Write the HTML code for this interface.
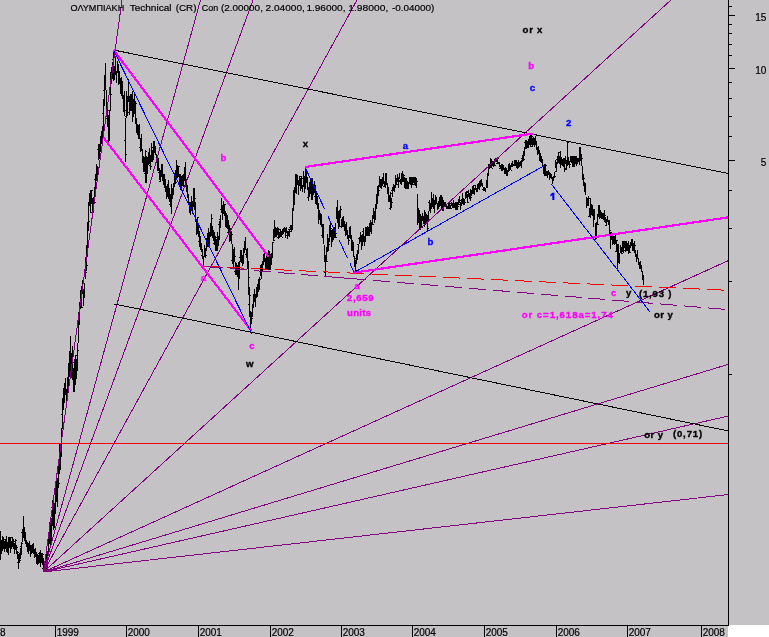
<!DOCTYPE html>
<html><head><meta charset="utf-8"><title>chart</title>
<style>html,body{margin:0;padding:0;background:#c5c2c6;}body{width:769px;height:637px;overflow:hidden;}svg{display:block;}text{font-family:"Liberation Sans",sans-serif;}</style>
</head><body>
<svg width="769" height="637" viewBox="0 0 769 637">
<rect x="0" y="0" width="769" height="637" fill="#c5c2c6"/>
<rect x="729" y="625" width="40" height="12" fill="#ffffff"/><rect x="728" y="626" width="2" height="11" fill="#ffffff"/>
<path d="M0.5 531.0V560.0M0.5 546.5h1.5M0.5 544.5h-1.5M1.5 540.0V554.0M1.5 549.5h1.5M2.5 536.0V551.0M2.5 537.5h1.5M2.5 548.5h-1.5M3.5 538.0V549.0M3.5 539.5h1.5M3.5 546.5h-1.5M4.5 541.0V552.0M5.5 539.0V549.0M5.5 549.5h1.5M5.5 543.5h-1.5M6.5 536.0V552.0M7.5 542.0V553.0M8.5 537.0V555.0M9.5 537.0V548.0M9.5 538.5h1.5M10.5 537.0V553.0M11.5 541.0V549.0M12.5 537.0V547.0M12.5 537.5h-1.5M13.5 539.0V548.0M14.5 543.0V554.0M14.5 548.5h-1.5M15.5 539.0V550.0M15.5 540.5h1.5M15.5 541.5h-1.5M16.5 545.0V553.0M16.5 547.5h1.5M16.5 548.5h-1.5M17.5 551.0V559.0M17.5 552.5h1.5M17.5 553.5h-1.5M18.5 554.0V569.0M18.5 562.5h1.5M18.5 562.5h-1.5M19.5 553.0V563.0M19.5 560.5h1.5M20.5 548.0V559.0M21.5 542.0V555.0M21.5 543.5h1.5M21.5 546.5h-1.5M22.5 529.0V542.0M22.5 532.5h-1.5M23.5 516.0V538.0M24.5 527.0V541.0M25.5 532.0V544.0M25.5 537.5h-1.5M26.5 540.0V547.0M27.5 542.0V552.0M27.5 542.5h-1.5M28.5 543.0V554.0M29.5 541.0V551.0M29.5 545.5h1.5M29.5 550.5h-1.5M30.5 545.0V557.0M31.5 545.0V554.0M31.5 552.5h1.5M31.5 549.5h-1.5M32.5 544.0V552.0M32.5 549.5h-1.5M33.5 543.0V554.0M34.5 549.0V558.0M35.5 548.0V557.0M35.5 553.5h1.5M36.5 552.0V564.0M36.5 560.5h1.5M37.5 554.0V565.0M38.5 555.0V564.0M38.5 559.5h-1.5M39.5 552.0V563.0M39.5 558.5h1.5M39.5 553.5h-1.5M40.5 550.0V567.0M40.5 554.5h-1.5M41.5 553.0V563.0M42.5 553.0V565.0M42.5 554.5h1.5M43.5 558.0V569.0M43.5 567.5h1.5M43.5 568.5h-1.5M44.5 563.0V572.0M44.5 568.5h1.5M44.5 564.5h-1.5M45.5 557.0V572.0M45.5 564.5h-1.5M46.5 551.0V572.0M46.5 561.5h-1.5M47.5 551.0V571.0M47.5 561.5h-1.5M48.5 534.0V555.0M48.5 541.5h-1.5M49.5 522.0V544.0M49.5 524.5h1.5M50.5 525.0V548.0M50.5 535.5h-1.5M51.5 518.0V542.0M51.5 527.5h-1.5M52.5 500.0V526.0M52.5 507.5h-1.5M53.5 500.0V530.0M54.5 503.0V528.0M54.5 528.5h1.5M54.5 521.5h-1.5M55.5 487.0V514.0M56.5 476.0V502.0M57.5 478.0V507.0M57.5 481.5h1.5M58.5 463.0V488.0M58.5 483.5h1.5M59.5 444.0V474.0M59.5 452.5h1.5M60.5 445.0V470.0M61.5 428.0V457.0M61.5 445.5h-1.5M62.5 398.0V429.0M62.5 414.5h-1.5M63.5 388.0V410.0M64.5 383.0V403.0M64.5 387.5h1.5M65.5 378.0V395.0M65.5 392.5h1.5M66.5 389.0V406.0M66.5 389.5h1.5M67.5 377.0V397.0M67.5 392.5h-1.5M68.5 363.0V386.0M68.5 371.5h1.5M68.5 386.5h-1.5M69.5 351.0V377.0M69.5 376.5h-1.5M70.5 336.0V377.0M71.5 353.0V378.0M71.5 371.5h-1.5M72.5 346.0V380.0M72.5 362.5h1.5M72.5 356.5h-1.5M73.5 368.0V392.0M73.5 372.5h-1.5M74.5 359.0V392.0M75.5 355.0V385.0M75.5 372.5h1.5M76.5 359.0V379.0M76.5 360.5h1.5M76.5 378.5h-1.5M77.5 343.0V371.0M77.5 350.5h1.5M77.5 355.5h-1.5M78.5 312.0V343.0M79.5 302.0V325.0M80.5 290.0V309.0M81.5 286.0V308.0M81.5 307.5h1.5M82.5 280.0V294.0M82.5 281.5h1.5M83.5 289.0V306.0M84.5 283.0V298.0M85.5 257.0V279.0M85.5 272.5h1.5M86.5 245.0V271.0M86.5 265.5h1.5M87.5 222.0V257.0M87.5 230.5h1.5M88.5 202.0V230.0M88.5 221.5h1.5M89.5 193.0V206.0M89.5 194.5h1.5M89.5 205.5h-1.5M90.5 190.0V213.0M90.5 212.5h1.5M91.5 190.0V204.0M91.5 190.5h1.5M91.5 195.5h-1.5M92.5 198.0V213.0M93.5 197.0V213.0M93.5 203.5h1.5M94.5 187.0V204.0M94.5 202.5h1.5M94.5 199.5h-1.5M95.5 174.0V193.0M95.5 187.5h1.5M95.5 179.5h-1.5M96.5 164.0V181.0M96.5 168.5h1.5M97.5 166.0V180.0M98.5 144.0V160.0M98.5 149.5h-1.5M99.5 144.0V159.0M99.5 145.5h1.5M99.5 152.5h-1.5M100.5 136.0V152.0M100.5 137.5h1.5M101.5 131.0V144.0M102.5 126.0V141.0M102.5 137.5h-1.5M103.5 99.0V134.0M103.5 113.5h-1.5M104.5 75.0V106.0M104.5 90.5h-1.5M105.5 63.0V90.0M106.5 90.0V117.0M107.5 106.0V127.0M107.5 110.5h1.5M107.5 118.5h-1.5M108.5 116.0V146.0M108.5 126.5h1.5M108.5 140.5h-1.5M109.5 110.0V141.0M109.5 115.5h-1.5M110.5 72.0V111.0M110.5 94.5h1.5M110.5 89.5h-1.5M111.5 67.0V84.0M111.5 68.5h1.5M112.5 62.0V79.0M112.5 63.5h1.5M113.5 51.0V81.0M113.5 59.5h-1.5M114.5 66.0V80.0M114.5 68.5h-1.5M115.5 56.0V75.0M116.5 71.0V83.0M117.5 61.0V73.0M117.5 64.5h1.5M118.5 65.0V85.0M118.5 77.5h1.5M119.5 71.0V84.0M119.5 77.5h-1.5M120.5 78.0V94.0M121.5 77.0V96.0M121.5 85.5h1.5M122.5 81.0V99.0M122.5 90.5h-1.5M123.5 95.0V112.0M124.5 91.0V116.0M124.5 110.5h1.5M125.5 118.0V162.0M125.5 154.5h1.5M125.5 140.5h-1.5M126.5 91.0V118.0M126.5 96.5h1.5M126.5 116.5h-1.5M127.5 96.0V116.0M127.5 114.5h-1.5M128.5 79.0V102.0M128.5 97.5h1.5M128.5 101.5h-1.5M129.5 97.0V115.0M129.5 112.5h-1.5M130.5 94.0V111.0M130.5 94.5h1.5M130.5 96.5h-1.5M131.5 94.0V110.0M131.5 104.5h1.5M131.5 94.5h-1.5M132.5 91.0V122.0M132.5 110.5h-1.5M133.5 99.0V117.0M133.5 110.5h1.5M134.5 92.0V114.0M134.5 106.5h1.5M134.5 113.5h-1.5M135.5 101.0V124.0M135.5 103.5h1.5M136.5 118.0V133.0M137.5 124.0V135.0M137.5 134.5h1.5M138.5 125.0V139.0M139.5 124.0V139.0M140.5 138.0V152.0M140.5 147.5h-1.5M141.5 134.0V151.0M142.5 149.0V163.0M143.5 156.0V171.0M144.5 157.0V172.0M144.5 171.5h-1.5M145.5 150.0V183.0M145.5 151.5h1.5M145.5 173.5h-1.5M146.5 156.0V183.0M147.5 157.0V174.0M147.5 160.5h1.5M147.5 157.5h-1.5M148.5 152.0V165.0M148.5 153.5h1.5M148.5 162.5h-1.5M149.5 148.0V164.0M149.5 153.5h-1.5M150.5 155.0V170.0M150.5 166.5h1.5M150.5 165.5h-1.5M151.5 143.0V162.0M151.5 147.5h1.5M152.5 150.0V162.0M152.5 156.5h1.5M152.5 160.5h-1.5M153.5 141.0V160.0M153.5 153.5h-1.5M154.5 141.0V153.0M154.5 146.5h1.5M154.5 152.5h-1.5M155.5 146.0V155.0M156.5 154.0V163.0M157.5 159.0V171.0M158.5 158.0V171.0M159.5 168.0V180.0M159.5 170.5h1.5M159.5 172.5h-1.5M160.5 170.0V181.0M160.5 181.5h-1.5M161.5 164.0V177.0M161.5 166.5h1.5M162.5 164.0V181.0M163.5 174.0V185.0M164.5 174.0V187.0M165.5 179.0V192.0M165.5 187.5h-1.5M166.5 186.0V199.0M166.5 192.5h1.5M167.5 184.0V197.0M168.5 180.0V199.0M169.5 188.0V202.0M170.5 194.0V207.0M170.5 204.5h-1.5M171.5 184.0V214.0M171.5 197.5h1.5M171.5 205.5h-1.5M172.5 188.0V199.0M172.5 197.5h-1.5M173.5 183.0V195.0M174.5 173.0V187.0M175.5 170.0V184.0M175.5 182.5h1.5M175.5 175.5h-1.5M176.5 160.0V178.0M176.5 165.5h1.5M177.5 165.0V178.0M177.5 176.5h-1.5M178.5 166.0V177.0M178.5 166.5h1.5M179.5 174.0V186.0M179.5 176.5h-1.5M180.5 174.0V190.0M181.5 176.0V188.0M182.5 175.0V186.0M182.5 180.5h1.5M182.5 180.5h-1.5M183.5 174.0V187.0M183.5 185.5h1.5M184.5 167.0V181.0M184.5 176.5h-1.5M185.5 162.0V184.0M185.5 184.5h1.5M186.5 179.0V192.0M186.5 191.5h1.5M186.5 186.5h-1.5M187.5 185.0V198.0M188.5 194.0V205.0M189.5 202.0V213.0M190.5 202.0V215.0M190.5 206.5h1.5M190.5 204.5h-1.5M191.5 196.0V209.0M192.5 201.0V214.0M193.5 188.0V207.0M193.5 204.5h-1.5M194.5 188.0V210.0M194.5 198.5h1.5M195.5 202.0V222.0M196.5 219.0V235.0M197.5 217.0V233.0M197.5 217.5h1.5M198.5 224.0V237.0M198.5 233.5h1.5M198.5 233.5h-1.5M199.5 231.0V247.0M199.5 241.5h-1.5M200.5 236.0V250.0M200.5 237.5h-1.5M201.5 243.0V252.0M201.5 251.5h1.5M202.5 249.0V259.0M202.5 257.5h1.5M202.5 255.5h-1.5M203.5 256.0V266.0M204.5 245.0V257.0M204.5 252.5h1.5M205.5 248.0V258.0M205.5 255.5h1.5M206.5 238.0V251.0M207.5 233.0V247.0M207.5 245.5h-1.5M208.5 228.0V247.0M208.5 242.5h-1.5M209.5 232.0V247.0M209.5 236.5h1.5M210.5 223.0V237.0M210.5 231.5h1.5M211.5 214.0V236.0M211.5 218.5h1.5M212.5 226.0V238.0M212.5 238.5h1.5M212.5 227.5h-1.5M213.5 230.0V241.0M213.5 230.5h-1.5M214.5 232.0V244.0M214.5 243.5h-1.5M215.5 236.0V251.0M215.5 237.5h1.5M215.5 244.5h-1.5M216.5 239.0V251.0M216.5 240.5h1.5M217.5 232.0V251.0M217.5 241.5h1.5M217.5 250.5h-1.5M218.5 236.0V246.0M219.5 221.0V240.0M219.5 224.5h-1.5M220.5 215.0V228.0M220.5 219.5h-1.5M221.5 198.0V213.0M221.5 208.5h1.5M221.5 209.5h-1.5M222.5 205.0V220.0M223.5 201.0V214.0M224.5 204.0V216.0M224.5 204.5h1.5M225.5 211.0V226.0M225.5 215.5h1.5M226.5 213.0V228.0M226.5 227.5h1.5M226.5 226.5h-1.5M227.5 215.0V229.0M227.5 220.5h1.5M228.5 221.0V232.0M228.5 229.5h1.5M228.5 232.5h-1.5M229.5 225.0V242.0M229.5 232.5h-1.5M230.5 228.0V241.0M231.5 231.0V244.0M231.5 234.5h1.5M232.5 244.0V264.0M232.5 258.5h1.5M232.5 260.5h-1.5M233.5 249.0V268.0M234.5 247.0V262.0M234.5 256.5h1.5M234.5 255.5h-1.5M235.5 262.0V275.0M235.5 271.5h-1.5M236.5 263.0V275.0M237.5 265.0V277.0M237.5 266.5h1.5M237.5 274.5h-1.5M238.5 262.0V290.0M239.5 261.0V279.0M240.5 250.0V262.0M240.5 257.5h-1.5M241.5 250.0V263.0M241.5 261.5h1.5M242.5 255.0V266.0M242.5 259.5h1.5M243.5 248.0V264.0M244.5 241.0V253.0M244.5 246.5h1.5M245.5 237.0V250.0M246.5 249.0V258.0M246.5 254.5h-1.5M247.5 248.0V269.0M247.5 255.5h-1.5M248.5 261.0V295.0M248.5 277.5h1.5M249.5 287.0V317.0M249.5 295.5h1.5M249.5 304.5h-1.5M250.5 311.0V332.0M251.5 312.0V324.0M251.5 318.5h1.5M251.5 319.5h-1.5M252.5 304.0V316.0M252.5 316.5h-1.5M253.5 294.0V308.0M253.5 299.5h1.5M253.5 304.5h-1.5M254.5 289.0V302.0M254.5 294.5h1.5M255.5 295.0V307.0M256.5 287.0V298.0M256.5 295.5h-1.5M257.5 284.0V297.0M258.5 280.0V292.0M258.5 284.5h1.5M259.5 277.0V290.0M259.5 279.5h1.5M259.5 279.5h-1.5M260.5 265.0V276.0M261.5 264.0V279.0M262.5 261.0V272.0M263.5 254.0V265.0M264.5 249.0V262.0M265.5 258.0V269.0M266.5 255.0V270.0M266.5 268.5h1.5M267.5 254.0V270.0M267.5 262.5h1.5M268.5 250.0V270.0M269.5 251.0V270.0M269.5 257.5h1.5M270.5 254.0V270.0M270.5 264.5h1.5M271.5 253.0V264.0M271.5 254.5h-1.5M272.5 242.0V258.0M272.5 242.5h1.5M273.5 229.0V241.0M273.5 240.5h1.5M274.5 220.0V238.0M274.5 231.5h-1.5M275.5 227.0V237.0M276.5 229.0V237.0M276.5 232.5h1.5M277.5 227.0V235.0M277.5 228.5h1.5M277.5 228.5h-1.5M278.5 229.0V239.0M278.5 229.5h1.5M278.5 237.5h-1.5M279.5 232.0V238.0M279.5 236.5h1.5M279.5 232.5h-1.5M280.5 229.0V236.0M280.5 235.5h1.5M281.5 231.0V237.0M281.5 237.5h1.5M282.5 229.0V235.0M283.5 228.0V234.0M283.5 231.5h1.5M284.5 227.0V232.0M284.5 229.5h1.5M284.5 228.5h-1.5M285.5 228.0V238.0M285.5 229.5h-1.5M286.5 227.0V233.0M286.5 232.5h1.5M287.5 231.0V239.0M287.5 235.5h-1.5M288.5 231.0V236.0M288.5 232.5h-1.5M289.5 229.0V237.0M289.5 231.5h1.5M289.5 229.5h-1.5M290.5 225.0V230.0M290.5 227.5h-1.5M291.5 225.0V232.0M291.5 226.5h1.5M292.5 208.0V230.0M293.5 190.0V211.0M293.5 192.5h1.5M294.5 188.0V205.0M295.5 174.0V193.0M295.5 188.5h1.5M295.5 187.5h-1.5M296.5 174.0V194.0M296.5 175.5h-1.5M297.5 175.0V185.0M298.5 180.0V195.0M298.5 185.5h1.5M299.5 176.0V185.0M299.5 182.5h-1.5M300.5 178.0V191.0M300.5 181.5h1.5M300.5 182.5h-1.5M301.5 176.0V188.0M301.5 178.5h1.5M301.5 176.5h-1.5M302.5 185.0V192.0M302.5 188.5h-1.5M303.5 171.0V187.0M304.5 176.0V193.0M304.5 179.5h-1.5M305.5 167.0V189.0M306.5 169.0V183.0M306.5 181.5h-1.5M307.5 177.0V190.0M308.5 187.0V201.0M308.5 197.5h-1.5M309.5 182.0V197.0M309.5 193.5h1.5M309.5 195.5h-1.5M310.5 178.0V194.0M310.5 183.5h-1.5M311.5 178.0V200.0M311.5 188.5h1.5M312.5 178.0V200.0M313.5 184.0V195.0M313.5 192.5h1.5M314.5 181.0V192.0M314.5 185.5h1.5M315.5 186.0V204.0M315.5 197.5h1.5M315.5 196.5h-1.5M316.5 192.0V204.0M316.5 202.5h-1.5M317.5 196.0V209.0M317.5 204.5h-1.5M318.5 203.0V224.0M319.5 210.0V220.0M319.5 218.5h1.5M319.5 212.5h-1.5M320.5 213.0V225.0M320.5 216.5h1.5M320.5 213.5h-1.5M321.5 214.0V227.0M322.5 224.0V238.0M322.5 235.5h-1.5M323.5 224.0V244.0M324.5 245.0V262.0M324.5 261.5h1.5M325.5 255.0V276.0M325.5 255.5h1.5M325.5 272.5h-1.5M326.5 247.0V262.0M326.5 261.5h1.5M327.5 234.0V252.0M328.5 238.0V251.0M328.5 244.5h1.5M328.5 249.5h-1.5M329.5 225.0V242.0M330.5 223.0V237.0M330.5 228.5h1.5M330.5 231.5h-1.5M331.5 230.0V247.0M331.5 235.5h-1.5M332.5 229.0V242.0M332.5 236.5h-1.5M333.5 229.0V240.0M333.5 232.5h1.5M334.5 227.0V238.0M335.5 223.0V238.0M335.5 237.5h1.5M336.5 207.0V219.0M336.5 218.5h1.5M337.5 200.0V223.0M337.5 216.5h1.5M338.5 211.0V229.0M339.5 210.0V227.0M339.5 215.5h-1.5M340.5 206.0V218.0M340.5 209.5h1.5M341.5 219.0V228.0M341.5 226.5h-1.5M342.5 218.0V227.0M343.5 216.0V226.0M343.5 223.5h1.5M343.5 217.5h-1.5M344.5 221.0V231.0M344.5 226.5h-1.5M345.5 224.0V236.0M345.5 225.5h-1.5M346.5 222.0V235.0M347.5 230.0V239.0M347.5 236.5h1.5M348.5 235.0V245.0M348.5 240.5h1.5M349.5 227.0V238.0M349.5 237.5h1.5M349.5 235.5h-1.5M350.5 226.0V239.0M350.5 238.5h1.5M350.5 228.5h-1.5M351.5 235.0V251.0M351.5 250.5h1.5M352.5 240.0V251.0M352.5 248.5h-1.5M353.5 242.0V257.0M353.5 256.5h1.5M354.5 256.0V267.0M354.5 258.5h1.5M355.5 260.0V272.0M355.5 270.5h1.5M356.5 254.0V264.0M357.5 250.0V260.0M357.5 259.5h-1.5M358.5 244.0V254.0M358.5 244.5h-1.5M359.5 237.0V244.0M359.5 238.5h-1.5M360.5 232.0V242.0M361.5 235.0V250.0M361.5 242.5h1.5M361.5 235.5h-1.5M362.5 234.0V246.0M362.5 239.5h1.5M362.5 242.5h-1.5M363.5 228.0V241.0M363.5 231.5h-1.5M364.5 236.0V246.0M364.5 237.5h1.5M364.5 241.5h-1.5M365.5 227.0V242.0M366.5 227.0V236.0M366.5 231.5h1.5M367.5 226.0V236.0M367.5 232.5h1.5M368.5 227.0V236.0M368.5 235.5h1.5M369.5 223.0V235.0M369.5 235.5h-1.5M370.5 220.0V232.0M370.5 227.5h-1.5M371.5 222.0V234.0M372.5 215.0V225.0M372.5 224.5h1.5M373.5 208.0V219.0M374.5 211.0V223.0M375.5 204.0V220.0M376.5 194.0V209.0M377.5 186.0V204.0M378.5 186.0V196.0M378.5 190.5h1.5M378.5 190.5h-1.5M379.5 176.0V187.0M379.5 179.5h1.5M379.5 185.5h-1.5M380.5 179.0V188.0M381.5 179.0V189.0M381.5 183.5h1.5M382.5 177.0V186.0M382.5 186.5h1.5M383.5 173.0V184.0M384.5 181.0V187.0M385.5 173.0V188.0M386.5 173.0V185.0M387.5 183.0V194.0M388.5 187.0V202.0M388.5 196.5h1.5M389.5 195.0V202.0M389.5 202.5h1.5M389.5 196.5h-1.5M390.5 192.0V210.0M390.5 193.5h1.5M390.5 208.5h-1.5M391.5 198.0V208.0M391.5 202.5h1.5M392.5 187.0V197.0M392.5 190.5h-1.5M393.5 184.0V191.0M393.5 189.5h-1.5M394.5 185.0V192.0M394.5 188.5h-1.5M395.5 175.0V188.0M396.5 178.0V185.0M396.5 184.5h1.5M396.5 184.5h-1.5M397.5 174.0V181.0M397.5 179.5h1.5M397.5 181.5h-1.5M398.5 177.0V188.0M398.5 180.5h1.5M399.5 173.0V179.0M399.5 178.5h-1.5M400.5 179.0V184.0M400.5 182.5h1.5M400.5 181.5h-1.5M401.5 173.0V185.0M402.5 171.0V182.0M403.5 174.0V182.0M403.5 175.5h1.5M403.5 181.5h-1.5M404.5 177.0V188.0M404.5 188.5h1.5M405.5 178.0V189.0M405.5 187.5h1.5M405.5 178.5h-1.5M406.5 178.0V189.0M406.5 184.5h-1.5M407.5 181.0V189.0M407.5 186.5h1.5M407.5 183.5h-1.5M408.5 182.0V189.0M408.5 183.5h1.5M409.5 177.0V184.0M410.5 177.0V185.0M410.5 184.5h1.5M411.5 177.0V188.0M412.5 177.0V185.0M412.5 184.5h-1.5M413.5 177.0V183.0M413.5 178.5h-1.5M414.5 177.0V185.0M414.5 184.5h-1.5M415.5 177.0V186.0M415.5 178.5h1.5M415.5 183.5h-1.5M416.5 178.0V188.0M416.5 181.5h1.5M417.5 194.0V225.0M418.5 208.0V223.0M418.5 218.5h1.5M418.5 210.5h-1.5M419.5 210.0V230.0M420.5 214.0V230.0M421.5 216.0V228.0M421.5 227.5h1.5M422.5 213.0V221.0M422.5 217.5h1.5M423.5 216.0V224.0M424.5 210.0V227.0M424.5 220.5h1.5M425.5 212.0V225.0M425.5 220.5h1.5M426.5 214.0V224.0M426.5 215.5h1.5M426.5 221.5h-1.5M427.5 216.0V231.0M427.5 228.5h1.5M427.5 220.5h-1.5M428.5 211.0V222.0M428.5 216.5h-1.5M429.5 200.0V211.0M429.5 206.5h1.5M429.5 202.5h-1.5M430.5 203.0V213.0M430.5 208.5h1.5M431.5 192.0V209.0M431.5 203.5h1.5M431.5 208.5h-1.5M432.5 198.0V207.0M433.5 194.0V209.0M433.5 205.5h-1.5M434.5 200.0V213.0M435.5 195.0V205.0M435.5 203.5h-1.5M436.5 197.0V204.0M437.5 204.0V210.0M437.5 208.5h1.5M438.5 201.0V208.0M438.5 206.5h1.5M438.5 203.5h-1.5M439.5 198.0V206.0M439.5 200.5h1.5M440.5 195.0V206.0M440.5 205.5h1.5M440.5 197.5h-1.5M441.5 195.0V210.0M441.5 197.5h1.5M442.5 197.0V211.0M442.5 210.5h1.5M443.5 200.0V211.0M443.5 210.5h-1.5M444.5 202.0V206.0M444.5 205.5h-1.5M445.5 202.0V207.0M446.5 205.0V209.0M446.5 205.5h-1.5M447.5 206.0V209.0M447.5 207.5h1.5M447.5 207.5h-1.5M448.5 202.0V209.0M448.5 208.5h-1.5M449.5 203.0V209.0M450.5 205.0V209.0M450.5 208.5h1.5M451.5 202.0V206.0M451.5 203.5h1.5M451.5 203.5h-1.5M452.5 204.0V208.0M452.5 207.5h1.5M452.5 204.5h-1.5M453.5 200.0V207.0M453.5 205.5h-1.5M454.5 203.0V208.0M454.5 207.5h-1.5M455.5 202.0V210.0M455.5 206.5h1.5M455.5 203.5h-1.5M456.5 202.0V210.0M456.5 209.5h-1.5M457.5 202.0V210.0M457.5 206.5h1.5M457.5 206.5h-1.5M458.5 199.0V205.0M458.5 201.5h1.5M458.5 203.5h-1.5M459.5 196.0V203.0M459.5 200.5h1.5M460.5 202.0V210.0M460.5 204.5h-1.5M461.5 199.0V206.0M461.5 200.5h1.5M462.5 193.0V204.0M463.5 198.0V205.0M464.5 199.0V205.0M464.5 202.5h1.5M465.5 192.0V199.0M466.5 191.0V198.0M466.5 191.5h1.5M466.5 195.5h-1.5M467.5 194.0V203.0M467.5 202.5h1.5M468.5 190.0V197.0M468.5 192.5h-1.5M469.5 193.0V199.0M469.5 196.5h1.5M470.5 189.0V201.0M470.5 197.5h1.5M471.5 190.0V196.0M472.5 186.0V194.0M473.5 185.0V193.0M473.5 185.5h1.5M473.5 193.5h-1.5M474.5 188.0V195.0M474.5 189.5h1.5M474.5 193.5h-1.5M475.5 185.0V190.0M475.5 188.5h1.5M475.5 189.5h-1.5M476.5 189.0V192.0M477.5 184.0V192.0M477.5 188.5h1.5M477.5 190.5h-1.5M478.5 183.0V189.0M478.5 186.5h-1.5M479.5 181.0V190.0M480.5 180.0V187.0M481.5 179.0V186.0M482.5 183.0V187.0M483.5 187.0V189.0M483.5 189.5h1.5M483.5 189.5h-1.5M484.5 187.0V190.0M484.5 188.5h1.5M484.5 190.5h-1.5M485.5 188.0V192.0M485.5 189.5h-1.5M486.5 180.0V188.0M486.5 186.5h1.5M487.5 173.0V188.0M487.5 181.5h-1.5M488.5 164.0V176.0M488.5 175.5h-1.5M489.5 164.0V169.0M489.5 165.5h-1.5M490.5 158.0V168.0M491.5 159.0V168.0M491.5 168.5h1.5M492.5 161.0V166.0M492.5 161.5h1.5M492.5 163.5h-1.5M493.5 161.0V167.0M493.5 165.5h1.5M493.5 162.5h-1.5M494.5 160.0V165.0M494.5 165.5h1.5M494.5 164.5h-1.5M495.5 159.0V162.0M495.5 159.5h-1.5M496.5 158.0V162.0M496.5 158.5h-1.5M497.5 158.0V164.0M497.5 158.5h1.5M497.5 163.5h-1.5M498.5 162.0V164.0M498.5 163.5h-1.5M499.5 162.0V167.0M499.5 166.5h1.5M499.5 163.5h-1.5M500.5 165.0V169.0M500.5 168.5h-1.5M501.5 164.0V171.0M501.5 165.5h-1.5M502.5 164.0V171.0M502.5 167.5h1.5M503.5 165.0V170.0M504.5 168.0V174.0M504.5 173.5h1.5M504.5 168.5h-1.5M505.5 167.0V173.0M505.5 168.5h1.5M506.5 169.0V176.0M506.5 173.5h1.5M507.5 170.0V176.0M508.5 165.0V171.0M508.5 171.5h-1.5M509.5 163.0V171.0M509.5 166.5h1.5M509.5 164.5h-1.5M510.5 165.0V170.0M510.5 170.5h1.5M510.5 168.5h-1.5M511.5 163.0V166.0M511.5 166.5h1.5M511.5 166.5h-1.5M512.5 161.0V167.0M512.5 165.5h1.5M512.5 163.5h-1.5M513.5 164.0V166.0M514.5 160.0V166.0M514.5 161.5h1.5M515.5 160.0V166.0M516.5 160.0V168.0M516.5 168.5h1.5M516.5 160.5h-1.5M517.5 163.0V168.0M518.5 160.0V168.0M518.5 162.5h-1.5M519.5 162.0V167.0M519.5 162.5h1.5M520.5 161.0V166.0M520.5 164.5h1.5M521.5 160.0V168.0M521.5 164.5h-1.5M522.5 155.0V162.0M522.5 158.5h-1.5M523.5 152.0V161.0M523.5 159.5h1.5M523.5 158.5h-1.5M524.5 147.0V156.0M524.5 148.5h1.5M524.5 151.5h-1.5M525.5 140.0V149.0M525.5 142.5h-1.5M526.5 140.0V149.0M527.5 141.0V148.0M527.5 147.5h1.5M527.5 143.5h-1.5M528.5 139.0V148.0M528.5 140.5h1.5M529.5 136.0V145.0M529.5 138.5h1.5M529.5 143.5h-1.5M530.5 133.0V147.0M530.5 138.5h1.5M531.5 135.0V145.0M531.5 136.5h1.5M532.5 138.0V146.0M532.5 146.5h-1.5M533.5 137.0V145.0M533.5 143.5h-1.5M534.5 138.0V147.0M535.5 136.0V144.0M535.5 141.5h1.5M535.5 141.5h-1.5M536.5 142.0V150.0M536.5 148.5h1.5M536.5 144.5h-1.5M537.5 147.0V155.0M537.5 153.5h1.5M537.5 149.5h-1.5M538.5 146.0V154.0M538.5 149.5h-1.5M539.5 150.0V161.0M539.5 161.5h1.5M540.5 153.0V161.0M540.5 159.5h1.5M541.5 156.0V163.0M541.5 161.5h1.5M541.5 158.5h-1.5M542.5 159.0V166.0M543.5 166.0V174.0M543.5 173.5h1.5M544.5 164.0V176.0M544.5 165.5h-1.5M545.5 164.0V176.0M545.5 165.5h1.5M545.5 166.5h-1.5M546.5 171.0V176.0M546.5 173.5h1.5M546.5 172.5h-1.5M547.5 171.0V178.0M548.5 170.0V175.0M548.5 171.5h-1.5M549.5 172.0V180.0M549.5 176.5h1.5M550.5 173.0V178.0M550.5 174.5h1.5M550.5 177.5h-1.5M551.5 174.0V179.0M552.5 177.0V184.0M552.5 179.5h1.5M552.5 177.5h-1.5M553.5 176.0V181.0M553.5 180.5h-1.5M554.5 172.0V178.0M554.5 176.5h1.5M554.5 177.5h-1.5M555.5 160.0V168.0M556.5 162.0V172.0M556.5 171.5h-1.5M557.5 156.0V164.0M557.5 159.5h-1.5M558.5 152.0V163.0M558.5 152.5h1.5M559.5 156.0V164.0M559.5 161.5h1.5M560.5 151.0V168.0M560.5 161.5h-1.5M561.5 157.0V165.0M561.5 160.5h-1.5M562.5 159.0V166.0M562.5 163.5h1.5M562.5 164.5h-1.5M563.5 158.0V167.0M563.5 160.5h1.5M564.5 158.0V172.0M564.5 168.5h1.5M565.5 156.0V164.0M566.5 160.0V169.0M566.5 169.5h-1.5M567.5 141.0V166.0M567.5 142.5h1.5M568.5 157.0V165.0M568.5 162.5h-1.5M569.5 161.0V168.0M569.5 164.5h1.5M570.5 156.0V162.0M570.5 158.5h1.5M571.5 156.0V163.0M572.5 156.0V167.0M572.5 166.5h1.5M572.5 157.5h-1.5M573.5 156.0V167.0M574.5 156.0V167.0M574.5 163.5h1.5M574.5 158.5h-1.5M575.5 156.0V163.0M575.5 159.5h1.5M575.5 163.5h-1.5M576.5 156.0V166.0M576.5 158.5h1.5M576.5 163.5h-1.5M577.5 159.0V164.0M577.5 160.5h-1.5M578.5 158.0V162.0M578.5 160.5h1.5M579.5 147.0V165.0M580.5 147.0V161.0M580.5 160.5h-1.5M581.5 154.0V166.0M581.5 158.5h1.5M582.5 166.0V180.0M583.5 174.0V186.0M583.5 178.5h1.5M583.5 178.5h-1.5M584.5 182.0V192.0M584.5 189.5h1.5M584.5 184.5h-1.5M585.5 183.0V195.0M586.5 197.0V208.0M586.5 199.5h1.5M587.5 198.0V206.0M588.5 196.0V206.0M588.5 198.5h1.5M588.5 203.5h-1.5M589.5 208.0V216.0M589.5 210.5h1.5M589.5 216.5h-1.5M590.5 198.0V218.0M590.5 213.5h1.5M590.5 209.5h-1.5M591.5 204.0V215.0M592.5 205.0V216.0M593.5 209.0V227.0M594.5 209.0V220.0M594.5 219.5h-1.5M595.5 223.0V240.0M595.5 238.5h1.5M596.5 222.0V236.0M596.5 231.5h-1.5M597.5 214.0V225.0M597.5 224.5h1.5M598.5 205.0V217.0M598.5 217.5h1.5M598.5 215.5h-1.5M599.5 205.0V219.0M599.5 215.5h-1.5M600.5 210.0V218.0M600.5 213.5h-1.5M601.5 212.0V219.0M602.5 213.0V219.0M602.5 218.5h1.5M602.5 217.5h-1.5M603.5 213.0V220.0M603.5 215.5h-1.5M604.5 210.0V222.0M604.5 215.5h1.5M605.5 217.0V223.0M605.5 222.5h1.5M605.5 218.5h-1.5M606.5 219.0V225.0M606.5 225.5h-1.5M607.5 216.0V222.0M608.5 220.0V225.0M609.5 220.0V234.0M609.5 230.5h1.5M610.5 232.0V249.0M610.5 238.5h1.5M611.5 232.0V240.0M612.5 236.0V245.0M612.5 236.5h1.5M612.5 237.5h-1.5M613.5 236.0V244.0M613.5 244.5h1.5M614.5 236.0V243.0M614.5 243.5h1.5M614.5 243.5h-1.5M615.5 235.0V244.0M615.5 243.5h1.5M616.5 240.0V251.0M616.5 240.5h1.5M616.5 251.5h-1.5M617.5 244.0V270.0M618.5 244.0V263.0M618.5 261.5h1.5M619.5 253.0V264.0M619.5 261.5h-1.5M620.5 245.0V253.0M621.5 247.0V254.0M621.5 253.5h1.5M621.5 248.5h-1.5M622.5 241.0V252.0M623.5 241.0V253.0M623.5 250.5h1.5M623.5 251.5h-1.5M624.5 241.0V248.0M624.5 246.5h-1.5M625.5 241.0V252.0M625.5 242.5h1.5M625.5 245.5h-1.5M626.5 241.0V250.0M626.5 242.5h-1.5M627.5 243.0V251.0M627.5 243.5h1.5M627.5 250.5h-1.5M628.5 241.0V254.0M628.5 251.5h1.5M629.5 245.0V253.0M629.5 252.5h1.5M629.5 247.5h-1.5M630.5 242.0V248.0M630.5 244.5h1.5M631.5 239.0V246.0M631.5 243.5h1.5M632.5 239.0V251.0M633.5 243.0V251.0M633.5 247.5h1.5M633.5 248.5h-1.5M634.5 241.0V253.0M634.5 245.5h1.5M634.5 248.5h-1.5M635.5 250.0V257.0M635.5 257.5h1.5M635.5 250.5h-1.5M636.5 254.0V262.0M637.5 250.0V259.0M638.5 258.0V265.0M639.5 262.0V269.0M639.5 265.5h1.5M640.5 261.0V269.0M640.5 267.5h1.5M640.5 265.5h-1.5M641.5 265.0V272.0M641.5 272.5h1.5M642.5 271.0V280.0M643.5 275.0V285.0" stroke="#000" stroke-width="1" fill="none" shape-rendering="crispEdges"/>
<line x1="43.5" y1="572.0" x2="122.0" y2="0.0" stroke="#800080" stroke-width="1" shape-rendering="crispEdges"/>
<line x1="43.5" y1="572.0" x2="200.5" y2="0.0" stroke="#800080" stroke-width="1" shape-rendering="crispEdges"/>
<line x1="43.5" y1="572.0" x2="253.0" y2="0.0" stroke="#800080" stroke-width="1" shape-rendering="crispEdges"/>
<line x1="43.5" y1="572.0" x2="357.0" y2="0.0" stroke="#800080" stroke-width="1" shape-rendering="crispEdges"/>
<line x1="43.5" y1="572.0" x2="671.0" y2="0.0" stroke="#800080" stroke-width="1" shape-rendering="crispEdges"/>
<line x1="43.5" y1="572.0" x2="728.5" y2="260.5" stroke="#800080" stroke-width="1" shape-rendering="crispEdges"/>
<line x1="43.5" y1="572.0" x2="728.5" y2="364.3" stroke="#800080" stroke-width="1" shape-rendering="crispEdges"/>
<line x1="43.5" y1="572.0" x2="728.5" y2="416.0" stroke="#800080" stroke-width="1" shape-rendering="crispEdges"/>
<line x1="43.5" y1="572.0" x2="728.5" y2="494.5" stroke="#800080" stroke-width="1" shape-rendering="crispEdges"/>
<line x1="113.5" y1="50.0" x2="728.5" y2="173.6" stroke="#000" stroke-width="1" shape-rendering="crispEdges"/>
<line x1="114.5" y1="304.0" x2="728.5" y2="431.0" stroke="#000" stroke-width="1" shape-rendering="crispEdges"/>
<line x1="0.0" y1="443.5" x2="728.5" y2="443.5" stroke="#ff0000" stroke-width="1" shape-rendering="crispEdges"/>
<line x1="113.5" y1="50.0" x2="268.7" y2="256.6" stroke="#ff00ff" stroke-width="2.2" shape-rendering="crispEdges"/>
<line x1="103.2" y1="137.2" x2="251.7" y2="331.3" stroke="#ff00ff" stroke-width="2.2" shape-rendering="crispEdges"/>
<line x1="114.0" y1="51.0" x2="251.9" y2="334.0" stroke="#0000ff" stroke-width="1" shape-rendering="crispEdges"/>
<line x1="203.5" y1="266.3" x2="725.0" y2="290.2" stroke="#ff0000" stroke-width="1" stroke-dasharray="17 7" shape-rendering="crispEdges"/>
<line x1="205.8" y1="266.6" x2="725.0" y2="309.3" stroke="#800080" stroke-width="1" stroke-dasharray="17 7" shape-rendering="crispEdges"/>
<line x1="324.5" y1="276.4" x2="356.0" y2="279.0" stroke="#800080" stroke-width="1" shape-rendering="crispEdges"/>
<line x1="305.0" y1="167.0" x2="533.5" y2="133.5" stroke="#ff00ff" stroke-width="2.2" shape-rendering="crispEdges"/>
<line x1="353.0" y1="272.8" x2="728.5" y2="217.3" stroke="#ff00ff" stroke-width="2.2" shape-rendering="crispEdges"/>
<line x1="305.6" y1="168.4" x2="354.0" y2="272.0" stroke="#0000ff" stroke-width="1" stroke-dasharray="45 8 19.5 7 19 6.5 10" shape-rendering="crispEdges"/>
<line x1="355.0" y1="272.0" x2="544.0" y2="165.8" stroke="#0000ff" stroke-width="1" shape-rendering="crispEdges"/>
<line x1="551.3" y1="184.0" x2="650.0" y2="312.0" stroke="#0000ff" stroke-width="1" shape-rendering="crispEdges"/>
<line x1="728.5" y1="0.0" x2="728.5" y2="626.0" stroke="#000" stroke-width="1" shape-rendering="crispEdges"/>
<line x1="0.0" y1="625.5" x2="729.0" y2="625.5" stroke="#000" stroke-width="1" shape-rendering="crispEdges"/>
<g style="will-change:opacity">
<line x1="728.5" y1="6.5" x2="732.0" y2="6.5" stroke="#000" stroke-width="1" shape-rendering="crispEdges"/>
<line x1="728.5" y1="15.5" x2="735.0" y2="15.5" stroke="#000" stroke-width="1" shape-rendering="crispEdges"/>
<text x="766.3" y="21.1" font-size="10" text-anchor="end" fill="#000" stroke="#000" stroke-width="0.2">15</text>
<line x1="728.5" y1="24.5" x2="732.0" y2="24.5" stroke="#000" stroke-width="1" shape-rendering="crispEdges"/>
<line x1="728.5" y1="33.5" x2="732.0" y2="33.5" stroke="#000" stroke-width="1" shape-rendering="crispEdges"/>
<line x1="728.5" y1="44.5" x2="732.0" y2="44.5" stroke="#000" stroke-width="1" shape-rendering="crispEdges"/>
<line x1="728.5" y1="55.5" x2="732.0" y2="55.5" stroke="#000" stroke-width="1" shape-rendering="crispEdges"/>
<line x1="728.5" y1="68.5" x2="735.0" y2="68.5" stroke="#000" stroke-width="1" shape-rendering="crispEdges"/>
<text x="766.3" y="74.1" font-size="10" text-anchor="end" fill="#000" stroke="#000" stroke-width="0.2">10</text>
<line x1="728.5" y1="82.5" x2="732.0" y2="82.5" stroke="#000" stroke-width="1" shape-rendering="crispEdges"/>
<line x1="728.5" y1="98.5" x2="732.0" y2="98.5" stroke="#000" stroke-width="1" shape-rendering="crispEdges"/>
<line x1="728.5" y1="116.5" x2="732.0" y2="116.5" stroke="#000" stroke-width="1" shape-rendering="crispEdges"/>
<line x1="728.5" y1="136.5" x2="732.0" y2="136.5" stroke="#000" stroke-width="1" shape-rendering="crispEdges"/>
<line x1="728.5" y1="160.5" x2="735.0" y2="160.5" stroke="#000" stroke-width="1" shape-rendering="crispEdges"/>
<text x="766.3" y="166.1" font-size="10" text-anchor="end" fill="#000" stroke="#000" stroke-width="0.2">5</text>
<line x1="728.5" y1="190.5" x2="732.0" y2="190.5" stroke="#000" stroke-width="1" shape-rendering="crispEdges"/>
<line x1="728.5" y1="228.5" x2="732.0" y2="228.5" stroke="#000" stroke-width="1" shape-rendering="crispEdges"/>
<line x1="728.5" y1="281.5" x2="732.0" y2="281.5" stroke="#000" stroke-width="1" shape-rendering="crispEdges"/>
<line x1="728.5" y1="374.5" x2="732.0" y2="374.5" stroke="#000" stroke-width="1" shape-rendering="crispEdges"/>
<line x1="55.5" y1="625.5" x2="55.5" y2="637.0" stroke="#000" stroke-width="1" shape-rendering="crispEdges"/>
<text x="56.7" y="635.7" font-size="10" fill="#000" stroke="#000" stroke-width="0.2">1999</text>
<line x1="126.5" y1="625.5" x2="126.5" y2="637.0" stroke="#000" stroke-width="1" shape-rendering="crispEdges"/>
<text x="127.7" y="635.7" font-size="10" fill="#000" stroke="#000" stroke-width="0.2">2000</text>
<line x1="198.5" y1="625.5" x2="198.5" y2="637.0" stroke="#000" stroke-width="1" shape-rendering="crispEdges"/>
<text x="199.7" y="635.7" font-size="10" fill="#000" stroke="#000" stroke-width="0.2">2001</text>
<line x1="270.5" y1="625.5" x2="270.5" y2="637.0" stroke="#000" stroke-width="1" shape-rendering="crispEdges"/>
<text x="271.7" y="635.7" font-size="10" fill="#000" stroke="#000" stroke-width="0.2">2002</text>
<line x1="341.5" y1="625.5" x2="341.5" y2="637.0" stroke="#000" stroke-width="1" shape-rendering="crispEdges"/>
<text x="342.7" y="635.7" font-size="10" fill="#000" stroke="#000" stroke-width="0.2">2003</text>
<line x1="412.5" y1="625.5" x2="412.5" y2="637.0" stroke="#000" stroke-width="1" shape-rendering="crispEdges"/>
<text x="413.7" y="635.7" font-size="10" fill="#000" stroke="#000" stroke-width="0.2">2004</text>
<line x1="484.5" y1="625.5" x2="484.5" y2="637.0" stroke="#000" stroke-width="1" shape-rendering="crispEdges"/>
<text x="485.7" y="635.7" font-size="10" fill="#000" stroke="#000" stroke-width="0.2">2005</text>
<line x1="556.5" y1="625.5" x2="556.5" y2="637.0" stroke="#000" stroke-width="1" shape-rendering="crispEdges"/>
<text x="557.7" y="635.7" font-size="10" fill="#000" stroke="#000" stroke-width="0.2">2006</text>
<line x1="627.5" y1="625.5" x2="627.5" y2="637.0" stroke="#000" stroke-width="1" shape-rendering="crispEdges"/>
<text x="628.7" y="635.7" font-size="10" fill="#000" stroke="#000" stroke-width="0.2">2007</text>
<line x1="701.5" y1="625.5" x2="701.5" y2="637.0" stroke="#000" stroke-width="1" shape-rendering="crispEdges"/>
<text x="702.7" y="635.7" font-size="10" fill="#000" stroke="#000" stroke-width="0.2">2008</text>
<text x="0" y="635.7" font-size="10" fill="#000" stroke="#000" stroke-width="0.2">8</text>
<text x="70.5" y="11.4" font-size="9.5" fill="#000" stroke="#000" stroke-width="0.2" textLength="53.7" lengthAdjust="spacingAndGlyphs">ΟΛΥΜΠΙΑΚΗ</text>
<text x="129.7" y="11.4" font-size="9.5" fill="#000" stroke="#000" stroke-width="0.2" textLength="41.8" lengthAdjust="spacingAndGlyphs">Technical</text>
<text x="175.7" y="11.4" font-size="9.5" fill="#000" stroke="#000" stroke-width="0.2" textLength="20.8" lengthAdjust="spacingAndGlyphs">(CR)</text>
<text x="201.8" y="11.4" font-size="9.5" fill="#000" stroke="#000" stroke-width="0.2" textLength="16.4" lengthAdjust="spacingAndGlyphs">Con</text>
<text x="221.0" y="11.4" font-size="9.5" fill="#000" stroke="#000" stroke-width="0.2" textLength="41.9" lengthAdjust="spacingAndGlyphs">(2.00000,</text>
<text x="265.6" y="11.4" font-size="9.5" fill="#000" stroke="#000" stroke-width="0.2" textLength="39.2" lengthAdjust="spacingAndGlyphs">2.04000,</text>
<text x="306.4" y="11.4" font-size="9.5" fill="#000" stroke="#000" stroke-width="0.2" textLength="39.1" lengthAdjust="spacingAndGlyphs">1.96000,</text>
<text x="348.3" y="11.4" font-size="9.5" fill="#000" stroke="#000" stroke-width="0.2" textLength="40.0" lengthAdjust="spacingAndGlyphs">1.98000,</text>
<text x="392.0" y="11.4" font-size="9.5" fill="#000" stroke="#000" stroke-width="0.2" textLength="42.4" lengthAdjust="spacingAndGlyphs">-0.04000)</text>
<text x="223.5" y="161.3" font-size="9.6" font-weight="bold" fill="#ff00ff" stroke="#ff00ff" stroke-width="0.35" text-anchor="middle">b</text>
<text x="305.5" y="147.0" font-size="9.6" font-weight="bold" fill="#000" stroke="#000" stroke-width="0.35" text-anchor="middle">x</text>
<text x="203.4" y="280.7" font-size="9.6" font-weight="bold" fill="#ff00ff" stroke="#ff00ff" stroke-width="0.35" text-anchor="middle">a</text>
<text x="357.2" y="289.0" font-size="9.6" font-weight="bold" fill="#ff00ff" stroke="#ff00ff" stroke-width="0.35" text-anchor="middle">a</text>
<text x="347.0" y="301.0" font-size="9.6" font-weight="bold" fill="#ff00ff" stroke="#ff00ff" stroke-width="0.35" text-anchor="start" textLength="26.7" lengthAdjust="spacing">2,659</text>
<text x="347.0" y="316.0" font-size="9.6" font-weight="bold" fill="#ff00ff" stroke="#ff00ff" stroke-width="0.35" text-anchor="start" textLength="24.1" lengthAdjust="spacing">units</text>
<text x="251.8" y="349.0" font-size="9.6" font-weight="bold" fill="#ff00ff" stroke="#ff00ff" stroke-width="0.35" text-anchor="middle">c</text>
<text x="249.7" y="367.0" font-size="9.6" font-weight="bold" fill="#000" stroke="#000" stroke-width="0.35" text-anchor="middle">w</text>
<text x="405.3" y="149.0" font-size="9.6" font-weight="bold" fill="#0000ff" stroke="#0000ff" stroke-width="0.35" text-anchor="middle">a</text>
<text x="430.5" y="245.3" font-size="9.6" font-weight="bold" fill="#0000ff" stroke="#0000ff" stroke-width="0.35" text-anchor="middle">b</text>
<text x="522.6" y="32.5" font-size="9.6" font-weight="bold" fill="#000" stroke="#000" stroke-width="0.35" text-anchor="start" textLength="19.8" lengthAdjust="spacing">or x</text>
<text x="531.3" y="69.2" font-size="9.6" font-weight="bold" fill="#ff00ff" stroke="#ff00ff" stroke-width="0.35" text-anchor="middle">b</text>
<text x="532.5" y="91.3" font-size="9.6" font-weight="bold" fill="#0000ff" stroke="#0000ff" stroke-width="0.35" text-anchor="middle">c</text>
<text x="568.7" y="126.0" font-size="9.6" font-weight="bold" fill="#0000ff" stroke="#0000ff" stroke-width="0.35" text-anchor="middle">2</text>
<path d="M552.3 192.8h2.1v7.2h-2.1v-4.7l-2 1.1v-1.7z" fill="#0000ff"/>
<text x="613.7" y="296.0" font-size="9.6" font-weight="bold" fill="#ff00ff" stroke="#ff00ff" stroke-width="0.35" text-anchor="middle">c</text>
<text x="626.0" y="296.0" font-size="9.6" font-weight="bold" fill="#000" stroke="#000" stroke-width="0.35" text-anchor="start">y</text>
<text x="639.0" y="297.0" font-size="9.6" font-weight="bold" fill="#000" stroke="#000" stroke-width="0.35" text-anchor="start" textLength="32.5" lengthAdjust="spacing">(1,93 )</text>
<text x="521.7" y="317.7" font-size="9.6" font-weight="bold" fill="#ff00ff" stroke="#ff00ff" stroke-width="0.35" text-anchor="start" textLength="91.1" lengthAdjust="spacing">or c=1,618a=1,74</text>
<text x="654.0" y="318.4" font-size="9.6" font-weight="bold" fill="#000" stroke="#000" stroke-width="0.35" text-anchor="start" textLength="18.8" lengthAdjust="spacing">or y</text>
<text x="644.3" y="438.4" font-size="9.6" font-weight="bold" fill="#000" stroke="#000" stroke-width="0.35" text-anchor="start" textLength="18.9" lengthAdjust="spacing">or y</text>
<text x="672.9" y="437.0" font-size="9.6" font-weight="bold" fill="#000" stroke="#000" stroke-width="0.35" text-anchor="start" textLength="29.3" lengthAdjust="spacing">(0,71)</text>
</g>
</svg></body></html>
